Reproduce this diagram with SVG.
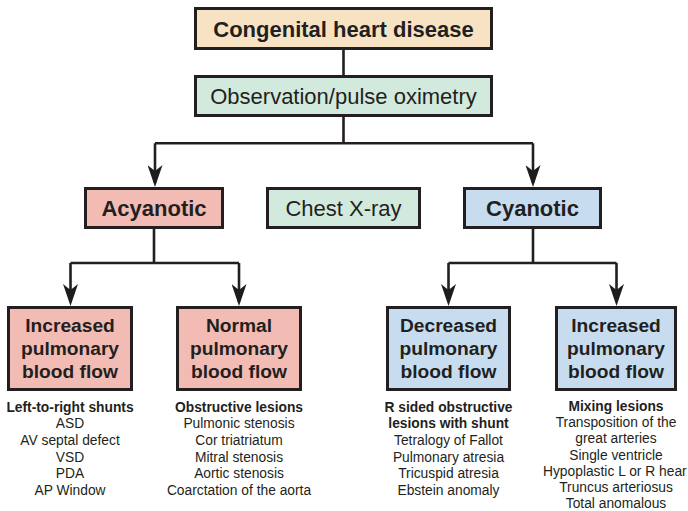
<svg xmlns="http://www.w3.org/2000/svg" width="688" height="511" viewBox="0 0 688 511">
<defs>
<marker id="ah" viewBox="0 0 22 15" refX="18" refY="7.5" markerWidth="22" markerHeight="15" markerUnits="userSpaceOnUse" orient="auto">
<path d="M0,0 L22,7.5 L0,15 L6,7.5 Z" fill="#1e1c1d"/>
</marker>
</defs>
<style>
.box{stroke:#231f20;stroke-width:3}
.tan{fill:#f7e3c3}
.grn{fill:#d2eadd}
.pnk{fill:#f2bcb4}
.blu{fill:#c7ddef}
text{font-family:"Liberation Sans",Arial,Helvetica,sans-serif;fill:#231f20;text-anchor:middle}
.h{font-size:22px;font-weight:bold}
.r{font-size:22px}
.s{font-size:19.2px;font-weight:bold}
.l{font-size:13.8px}
.lb{font-size:13.8px;font-weight:bold}
.c{fill:none;stroke:#231f20;stroke-width:2.6}
</style>
<g id="connectors">
<path class="c" d="M343.5,50 V75"/>
<path class="c" d="M343.5,117 V143.3 M155,143.3 H533"/>
<path class="c" d="M155,143.3 V183" marker-end="url(#ah)"/>
<path class="c" d="M533,143.3 V183" marker-end="url(#ah)"/>
<path class="c" d="M154,229 V263 M70.5,263 H239"/>
<path class="c" d="M70.5,263 V302" marker-end="url(#ah)"/>
<path class="c" d="M239,263 V302" marker-end="url(#ah)"/>
<path class="c" d="M533,229 V263 M448.5,263 H616.5"/>
<path class="c" d="M448.5,263 V302" marker-end="url(#ah)"/>
<path class="c" d="M616.5,263 V302" marker-end="url(#ah)"/>
</g>
<g id="congenital">
<rect class="box tan" x="195.5" y="8.5" width="296" height="40"/>
<text class="h" x="343.5" y="36.5">Congenital heart disease</text>
</g>
<g id="observation">
<rect class="box grn" x="195.5" y="76.5" width="296" height="39"/>
<text class="r" x="343.5" y="104">Observation/pulse oximetry</text>
</g>
<g id="acyanotic">
<rect class="box pnk" x="85.5" y="188.5" width="137" height="39"/>
<text class="h" x="154" y="216">Acyanotic</text>
</g>
<g id="chestxray">
<rect class="box grn" x="267.5" y="188.5" width="152" height="39"/>
<text class="r" x="343.5" y="216">Chest X-ray</text>
</g>
<g id="cyanotic">
<rect class="box blu" x="464.5" y="188.5" width="136" height="39"/>
<text class="h" x="532.5" y="216">Cyanotic</text>
</g>
<g id="acy-increased">
<rect class="box pnk" x="8.5" y="307.5" width="123" height="82"/>
<text class="s" x="70" y="332">Increased</text>
<text class="s" x="70" y="355">pulmonary</text>
<text class="s" x="70" y="378">blood flow</text>
<text class="lb" x="70" y="411.5">Left-to-right shunts</text>
<text class="l" x="70" y="428.2">ASD</text>
<text class="l" x="70" y="444.9">AV septal defect</text>
<text class="l" x="70" y="461.6">VSD</text>
<text class="l" x="70" y="478.3">PDA</text>
<text class="l" x="70" y="495">AP Window</text>
</g>
<g id="acy-normal">
<rect class="box pnk" x="177.5" y="307.5" width="123" height="82"/>
<text class="s" x="239" y="332">Normal</text>
<text class="s" x="239" y="355">pulmonary</text>
<text class="s" x="239" y="378">blood flow</text>
<text class="lb" x="239" y="411.5">Obstructive lesions</text>
<text class="l" x="239" y="428.2">Pulmonic stenosis</text>
<text class="l" x="239" y="444.9">Cor triatriatum</text>
<text class="l" x="239" y="461.6">Mitral stenosis</text>
<text class="l" x="239" y="478.3">Aortic stenosis</text>
<text class="l" x="239" y="495">Coarctation of the aorta</text>
</g>
<g id="cya-decreased">
<rect class="box blu" x="387.5" y="307.5" width="122" height="82"/>
<text class="s" x="448.5" y="332">Decreased</text>
<text class="s" x="448.5" y="355">pulmonary</text>
<text class="s" x="448.5" y="378">blood flow</text>
<text class="lb" x="448.5" y="411.5">R sided obstructive</text>
<text class="lb" x="448.5" y="428.2">lesions with shunt</text>
<text class="l" x="448.5" y="444.9">Tetralogy of Fallot</text>
<text class="l" x="448.5" y="461.6">Pulmonary atresia</text>
<text class="l" x="448.5" y="478.3">Tricuspid atresia</text>
<text class="l" x="448.5" y="495">Ebstein anomaly</text>
</g>
<g id="cya-increased">
<rect class="box blu" x="556.5" y="307.5" width="119" height="82"/>
<text class="s" x="616" y="332">Increased</text>
<text class="s" x="616" y="355">pulmonary</text>
<text class="s" x="616" y="378">blood flow</text>
<text class="lb" x="616" y="411">Mixing lesions</text>
<text class="l" x="616" y="427.2">Transposition of the</text>
<text class="l" x="616" y="443.4">great arteries</text>
<text class="l" x="616" y="459.6">Single ventricle</text>
<text class="l" x="543" y="475.8" style="text-anchor:start">Hypoplastic L or R hear</text>
<text class="l" x="616" y="492">Truncus arteriosus</text>
<text class="l" x="616" y="508">Total anomalous</text>
</g>
</svg>
